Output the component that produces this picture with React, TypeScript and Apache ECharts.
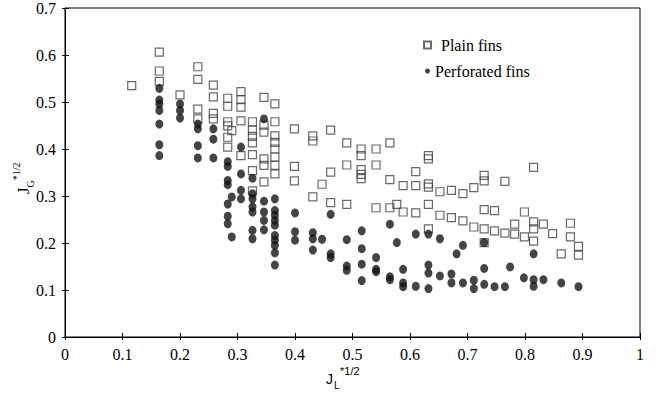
import React, { useEffect, useRef } from "react";
import * as echarts from "echarts";

const plainFins: [number, number][] = [
  [0.116, 0.535],
  [0.164, 0.606], [0.164, 0.566], [0.164, 0.544],
  [0.2, 0.515],
  [0.231, 0.575], [0.231, 0.548], [0.231, 0.485], [0.231, 0.464],
  [0.258, 0.536], [0.258, 0.511], [0.258, 0.476], [0.258, 0.464],
  [0.283, 0.508], [0.283, 0.491], [0.283, 0.458], [0.283, 0.449], [0.283, 0.425], [0.283, 0.404],
  [0.29, 0.439],
  [0.306, 0.522], [0.306, 0.505], [0.306, 0.489], [0.306, 0.46], [0.306, 0.386],
  [0.326, 0.458], [0.326, 0.44], [0.326, 0.427], [0.326, 0.413], [0.326, 0.388], [0.326, 0.354], [0.326, 0.311],
  [0.346, 0.51], [0.346, 0.451], [0.346, 0.436], [0.346, 0.379], [0.346, 0.365], [0.346, 0.33],
  [0.365, 0.496], [0.365, 0.458], [0.365, 0.428], [0.365, 0.414], [0.365, 0.4], [0.365, 0.383], [0.365, 0.365], [0.365, 0.347],
  [0.399, 0.443], [0.399, 0.363], [0.399, 0.332],
  [0.431, 0.428], [0.431, 0.417], [0.431, 0.298],
  [0.447, 0.325],
  [0.462, 0.44], [0.462, 0.351], [0.462, 0.286],
  [0.49, 0.413], [0.49, 0.366], [0.49, 0.282],
  [0.515, 0.4], [0.515, 0.386], [0.515, 0.356], [0.515, 0.346], [0.515, 0.337],
  [0.541, 0.4], [0.541, 0.366], [0.541, 0.275],
  [0.565, 0.413], [0.565, 0.335], [0.565, 0.275],
  [0.577, 0.282],
  [0.588, 0.322], [0.588, 0.266],
  [0.61, 0.352], [0.61, 0.322], [0.61, 0.264],
  [0.632, 0.386], [0.632, 0.379], [0.632, 0.326], [0.632, 0.319], [0.632, 0.282], [0.632, 0.23],
  [0.652, 0.309], [0.652, 0.259],
  [0.672, 0.312], [0.672, 0.254],
  [0.692, 0.305], [0.692, 0.247],
  [0.711, 0.318], [0.711, 0.234],
  [0.729, 0.344], [0.729, 0.332], [0.729, 0.271], [0.729, 0.23], [0.729, 0.201],
  [0.747, 0.269], [0.747, 0.226],
  [0.765, 0.331], [0.765, 0.221],
  [0.782, 0.24], [0.782, 0.219],
  [0.799, 0.266], [0.799, 0.213],
  [0.815, 0.361], [0.815, 0.245], [0.815, 0.23], [0.815, 0.204],
  [0.832, 0.24],
  [0.848, 0.22],
  [0.863, 0.177],
  [0.879, 0.242], [0.879, 0.213],
  [0.893, 0.193], [0.893, 0.174],
];

const perforatedFins: [number, number][] = [
  [0.164, 0.529], [0.164, 0.504], [0.164, 0.496], [0.164, 0.482], [0.164, 0.453], [0.164, 0.409], [0.164, 0.386],
  [0.2, 0.496], [0.2, 0.482], [0.2, 0.466],
  [0.231, 0.453], [0.231, 0.443], [0.231, 0.407], [0.231, 0.381],
  [0.258, 0.443], [0.258, 0.421], [0.258, 0.381],
  [0.283, 0.373], [0.283, 0.363], [0.283, 0.333], [0.283, 0.324], [0.283, 0.283], [0.283, 0.257], [0.283, 0.241],
  [0.29, 0.298], [0.29, 0.213],
  [0.306, 0.404], [0.306, 0.347], [0.306, 0.312], [0.306, 0.294],
  [0.326, 0.338], [0.326, 0.305], [0.326, 0.294], [0.326, 0.277], [0.326, 0.266], [0.326, 0.227], [0.326, 0.209],
  [0.346, 0.464], [0.346, 0.289], [0.346, 0.266], [0.346, 0.248], [0.346, 0.228],
  [0.365, 0.294], [0.365, 0.269], [0.365, 0.259], [0.365, 0.248], [0.365, 0.238], [0.365, 0.216], [0.365, 0.206], [0.365, 0.195], [0.365, 0.179], [0.365, 0.153],
  [0.4, 0.264], [0.4, 0.224], [0.4, 0.206],
  [0.431, 0.222], [0.431, 0.209], [0.431, 0.185],
  [0.447, 0.208],
  [0.462, 0.261], [0.462, 0.177], [0.462, 0.169],
  [0.49, 0.207], [0.49, 0.151], [0.49, 0.142],
  [0.516, 0.226], [0.516, 0.188], [0.516, 0.155], [0.516, 0.12],
  [0.541, 0.169], [0.541, 0.144], [0.541, 0.139],
  [0.565, 0.24], [0.565, 0.128], [0.565, 0.122],
  [0.577, 0.201],
  [0.588, 0.144], [0.588, 0.115], [0.588, 0.107],
  [0.61, 0.219], [0.61, 0.108],
  [0.632, 0.219], [0.632, 0.153], [0.632, 0.136], [0.632, 0.103],
  [0.652, 0.209], [0.652, 0.13],
  [0.672, 0.134], [0.672, 0.115],
  [0.681, 0.177], [0.692, 0.195], [0.692, 0.115],
  [0.711, 0.121], [0.711, 0.103],
  [0.729, 0.201], [0.729, 0.146], [0.729, 0.112],
  [0.747, 0.107], [0.765, 0.107], [0.774, 0.149],
  [0.798, 0.126],
  [0.815, 0.177], [0.815, 0.122], [0.815, 0.108],
  [0.832, 0.122],
  [0.863, 0.115],
  [0.893, 0.107],
];

const X_MIN = 0, X_MAX = 1, X_STEP = 0.1;
const Y_MIN = 0, Y_MAX = 0.7, Y_STEP = 0.1;

const SERIF = "Liberation Serif";
const SANS = "Liberation Sans";

const fmt = (v: number) => String(Number(v.toFixed(1)));

export default function App() {
  const ref = useRef<HTMLDivElement>(null);
  useEffect(() => {
    document.body.style.margin = "0";
    const chart = echarts.init(ref.current!, null, { renderer: "svg" });
    const grid = { left: 65, right: 18, top: 8, bottom: 58, show: true, borderColor: "#000", borderWidth: 1, backgroundColor: "transparent" };
    const baseX = { type: "value", min: X_MIN, max: X_MAX, interval: X_STEP, splitLine: { show: false } };
    const baseY = { type: "value", min: Y_MIN, max: Y_MAX, interval: Y_STEP, splitLine: { show: false } };
    chart.setOption({
      animation: false,
      backgroundColor: "#fff",
      textStyle: { fontFamily: SERIF },
      grid,
      xAxis: [
        {
          ...baseX,
          position: "bottom",
          axisLine: { show: true, lineStyle: { color: "#000", width: 1 } },
          axisTick: { show: true, inside: false, length: 3, lineStyle: { color: "#000" } },
          axisLabel: { fontFamily: SERIF, fontSize: 16, color: "#000", margin: 9, formatter: fmt },
        },
        {
          ...baseX,
          position: "bottom",
          axisLine: { show: false },
          axisTick: { show: true, inside: true, length: 4, lineStyle: { color: "#000" } },
          axisLabel: { show: false },
        },
      ],
      yAxis: [
        {
          ...baseY,
          position: "left",
          axisLine: { show: true, lineStyle: { color: "#000", width: 1 } },
          axisTick: { show: true, inside: false, length: 3, lineStyle: { color: "#000" } },
          axisLabel: { fontFamily: SERIF, fontSize: 16, color: "#000", margin: 9, formatter: fmt },
        },
        {
          ...baseY,
          position: "left",
          axisLine: { show: false },
          axisTick: { show: true, inside: true, length: 4, lineStyle: { color: "#000" } },
          axisLabel: { show: false },
        },
      ],
      legend: [
        {
          data: ["Plain fins"],
          left: 418,
          top: 32,
          itemWidth: 7,
          itemHeight: 7,
          formatter: "{p|Plain fins}",
          textStyle: { fontFamily: SERIF, fontSize: 16, color: "#000", rich: { p: { fontFamily: SERIF, fontSize: 16, color: "#000", padding: [0, 0, 0, 5] } } },
        },
        {
          data: ["Perforated fins"],
          left: 420,
          top: 58,
          itemWidth: 5,
          itemHeight: 5,
          formatter: "{p|Perforated fins}",
          textStyle: { fontFamily: SERIF, fontSize: 16, color: "#000", rich: { p: { fontFamily: SERIF, fontSize: 16, color: "#000", padding: [0, 0, 0, 0] } } },
        },
      ],
      series: [
        {
          name: "Plain fins",
          type: "scatter",
          xAxisIndex: 0,
          yAxisIndex: 0,
          symbol: "rect",
          symbolSize: 8,
          data: plainFins,
          itemStyle: { color: "rgba(255,255,255,0)", borderColor: "#444", borderWidth: 1.2 },
          emphasis: { disabled: true },
        },
        {
          name: "Perforated fins",
          type: "scatter",
          xAxisIndex: 0,
          yAxisIndex: 0,
          symbol: "circle",
          symbolSize: [8, 9],
          data: perforatedFins,
          itemStyle: { color: "#151515" },
          emphasis: { disabled: true },
        },
      ],
      graphic: [
        {
          type: "group",
          children: [
            { type: "text", x: 326, y: 379, style: { text: "J", fontFamily: SANS, fontSize: 14, fill: "#000", verticalAlign: "middle" } },
            { type: "text", x: 334, y: 385, style: { text: "L", fontFamily: SANS, fontSize: 10, fill: "#000", verticalAlign: "middle" } },
            { type: "text", x: 340, y: 371, style: { text: "*1/2", fontFamily: SANS, fontSize: 11, fill: "#000", verticalAlign: "middle" } },
          ],
        },
        {
          type: "text",
          x: 23,
          y: 194,
          rotation: Math.PI / 2,
          style: {
            text: "{j|J}{g|G}{s|*1/2}",
            align: "left",
            verticalAlign: "middle",
            fill: "#000",
            rich: {
              j: { fontFamily: SERIF, fontSize: 17, lineHeight: 24, fill: "#000" },
              g: { fontFamily: SERIF, fontSize: 10, lineHeight: 10, verticalAlign: "bottom", fill: "#000" },
              s: { fontFamily: SERIF, fontSize: 10, lineHeight: 10, verticalAlign: "top", fill: "#000" },
            },
          },
        },
      ],
    });
    return () => chart.dispose();
  }, []);
  return <div ref={ref} style={{ width: 658, height: 395 }} />;
}
